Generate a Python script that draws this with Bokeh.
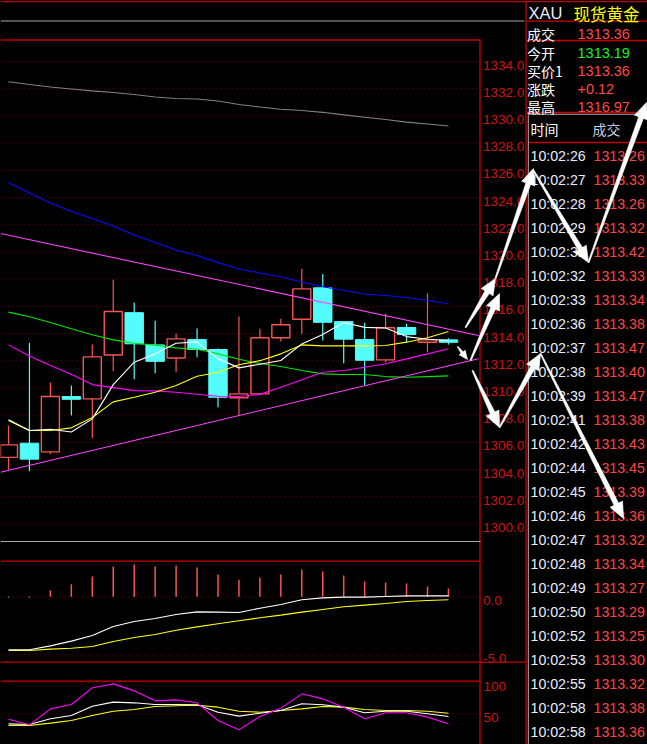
import math
from bokeh.plotting import figure
from bokeh.models import Range1d
from bokeh.core.properties import value
from bokeh.embed import file_html
from bokeh.resources import INLINE

# ---------------- data ----------------
bars = list(range(22))
opens  = [1304.90, 1305.94, 1305.30, 1309.37, 1309.20, 1312.43, 1315.54, 1313.17, 1312.21, 1313.56, 1312.83,
          1309.28, 1309.57, 1313.69, 1315.05, 1317.37, 1314.88, 1313.56, 1312.07, 1314.45, 1313.36, 1313.54]
closes = [1305.82, 1304.77, 1309.37, 1309.17, 1312.29, 1315.62, 1313.25, 1311.96, 1313.61, 1312.83, 1309.32,
          1309.57, 1313.69, 1314.65, 1317.29, 1314.83, 1313.59, 1312.04, 1314.43, 1313.93, 1313.54, 1313.36]
highs  = [1307.24, 1313.32, 1310.40, 1310.18, 1313.19, 1317.96, 1316.28, 1314.95, 1313.98, 1314.37, 1312.90,
          1315.25, 1314.35, 1315.10, 1318.76, 1318.39, 1314.88, 1314.79, 1315.45, 1314.72, 1316.97, 1313.66]
lows   = [1303.98, 1303.88, 1305.15, 1307.98, 1306.30, 1311.24, 1310.65, 1311.09, 1311.16, 1312.26, 1308.58,
          1307.96, 1309.50, 1313.42, 1313.98, 1313.49, 1311.82, 1310.18, 1311.89, 1313.36, 1312.63, 1313.19]

ma_white   = [1307.66, 1306.87, 1306.97, 1306.77, 1307.73, 1310.25, 1311.90, 1312.51, 1313.29, 1313.39, 1312.16,
              1311.48, 1311.75, 1312.02, 1313.24, 1313.93, 1314.81, 1314.46, 1314.41, 1313.78, 1313.59, 1313.49]
ma_yellow  = [1307.61, 1306.87, 1306.87, 1307.07, 1307.83, 1308.98, 1309.32, 1309.69, 1310.18, 1310.87, 1311.16,
              1311.71, 1312.01, 1312.51, 1313.17, 1313.10, 1313.10, 1313.10, 1313.13, 1313.37, 1313.69, 1314.15]
ma_magenta = [1313.17, 1312.36, 1311.66, 1311.01, 1310.25, 1310.03, 1309.81, 1309.79, 1309.69, 1309.54, 1309.39,
              1309.37, 1309.53, 1310.06, 1310.60, 1311.16, 1311.29, 1311.53, 1311.78, 1312.14, 1312.51, 1312.88]
ma_green   = [1315.58, 1315.24, 1314.81, 1314.36, 1313.92, 1313.54, 1313.29, 1313.15, 1312.95, 1312.85, 1312.51,
              1312.11, 1311.80, 1311.58, 1311.29, 1311.04, 1310.99, 1310.99, 1310.84, 1310.79, 1310.84, 1310.89]
ma_blue    = [1325.11, 1324.34, 1323.60, 1322.99, 1322.46, 1321.91, 1321.25, 1320.70, 1320.14, 1319.74, 1319.22,
              1318.75, 1318.46, 1318.18, 1317.79, 1317.44, 1317.19, 1316.91, 1316.80, 1316.65, 1316.43, 1316.19]
ma_gray    = [1332.52, 1332.32, 1332.13, 1331.99, 1331.85, 1331.73, 1331.58, 1331.40, 1331.29, 1331.25, 1331.10,
              1330.84, 1330.66, 1330.50, 1330.40, 1330.27, 1330.08, 1329.91, 1329.74, 1329.55, 1329.41, 1329.27]

trend_x       = [-0.38, 22.43]
trend_upper_y = [1321.36, 1313.86]
trend_lower_y = [1303.81, 1312.15]

macd_hist = [-0.05, -0.05, 0.54, 1.09, 1.75, 2.61, 2.78, 2.61, 2.70, 2.53, 1.92,
             1.47, 1.66, 1.92, 2.35, 2.18, 1.84, 1.32, 1.23, 1.15, 0.89, 0.72]
macd_dif  = [-4.57, -4.57, -4.23, -3.82, -3.34, -2.56, -2.13, -1.87, -1.53, -1.30, -1.32,
             -1.35, -0.98, -0.66, -0.26, -0.09, -0.03, -0.03, 0.03, 0.08, 0.08, 0.08]
macd_dea  = [-4.63, -4.63, -4.51, -4.43, -4.28, -3.85, -3.51, -3.25, -2.88, -2.59, -2.33,
             -2.07, -1.81, -1.58, -1.32, -1.09, -0.86, -0.72, -0.58, -0.41, -0.32, -0.26]

kdj_k = [33.8, 32.7, 41.9, 47.3, 62.3, 68.8, 67.7, 65.0, 65.0, 64.5, 52.6,
         46.2, 51.0, 55.3, 66.1, 64.5, 60.7, 51.6, 54.2, 54.2, 50.0, 45.6]
kdj_d = [31.1, 31.1, 34.9, 39.2, 47.3, 54.2, 56.9, 61.8, 62.9, 63.9, 60.7,
         54.2, 52.6, 55.3, 58.0, 61.8, 60.7, 56.9, 55.3, 55.3, 54.2, 51.0]
kdj_j = [41.3, 32.2, 58.0, 65.0, 91.9, 98.3, 87.0, 70.9, 72.5, 67.7, 39.2,
         24.1, 45.6, 59.1, 82.2, 74.1, 60.7, 41.9, 51.6, 51.6, 44.6, 33.8]

main_ticks = [1300.0, 1302.0, 1304.0, 1306.0, 1308.0, 1310.0, 1312.0, 1314.0, 1316.0,
              1318.0, 1320.0, 1322.0, 1324.0, 1326.0, 1328.0, 1330.0, 1332.0, 1334.0]
macd_ticks = [0.0, -5.0]
kdj_ticks = [100, 50]

symbol = "XAU"
symbol_name = "现货黄金"
quote_labels = ["成交", "今开", "买价1", "涨跌", "最高"]
quote_values = ["1313.36", "1313.19", "1313.36", "+0.12", "1316.97"]

tick_times = ["10:02:26", "10:02:27", "10:02:28", "10:02:29", "10:02:31", "10:02:32", "10:02:33",
              "10:02:36", "10:02:37", "10:02:38", "10:02:39", "10:02:41", "10:02:42", "10:02:44",
              "10:02:45", "10:02:46", "10:02:47", "10:02:48", "10:02:49", "10:02:50", "10:02:52",
              "10:02:53", "10:02:55", "10:02:58", "10:02:58"]
tick_prices = ["1313.26", "1313.33", "1313.26", "1313.32", "1313.42", "1313.33", "1313.34",
               "1313.38", "1313.47", "1313.40", "1313.47", "1313.38", "1313.43", "1313.45",
               "1313.39", "1313.36", "1313.32", "1313.34", "1313.27", "1313.29", "1313.25",
               "1313.30", "1313.32", "1313.38", "1313.36"]

# hand-drawn annotation arrows (screen layout, reference pixels): x0, y0, x1, y1, size
arrow_segments = [
    (465, 327, 495, 278, 1.0), (495, 278, 533, 168, 1.0), (533, 170, 588, 262, 1.0),
    (588, 262, 646, 102, 1.0), (470, 360, 499, 293, 1.0), (457, 346, 467, 359, 0.55),
    (472, 370, 499, 427, 1.0), (499, 427, 540, 353, 1.0), (540, 353, 623, 518, 1.0),
]

# ---------------- layout / style ----------------
REF_W, REF_H = 647, 744
W, H = 647, 744
SX = W / REF_W
BAR_X0, BAR_STEP = 8.0, 20.95

RED = "#c80000"
GRID = "#8c0000"
LBL = "#cc1414"
UP = "#f85454"
DOWN = "#54fcfc"
LATIN = value("Liberation Sans")
CJK = value("Noto Sans CJK SC")


def fs(px):
    return f"{px * SX:.1f}px"


def vrange(v_ref, px_ref, px_per_unit):
    top = v_ref + px_ref / px_per_unit
    bottom = v_ref - (REF_H - px_ref) / px_per_unit
    return Range1d(bottom, top)


p = figure(width=W, height=H, x_range=Range1d(0, REF_W), y_range=Range1d(REF_H, 0),
           toolbar_location=None, output_backend="svg", min_border=0,
           x_axis_location=None, y_axis_location=None,
           background_fill_color="black", border_fill_color="black", outline_line_color=None)
p.grid.grid_line_color = None
p.extra_x_ranges = {"bar": Range1d((0 - BAR_X0) / BAR_STEP, (REF_W - BAR_X0) / BAR_STEP)}
p.extra_y_ranges = {"price": vrange(1334.0, 61.1, 13.6),
                    "macd": vrange(0.0, 596.3, 11.6),
                    "kdj": vrange(100.0, 682.3, 0.62)}

try:
    from bokeh.models import GlobalInlineStyleSheet
    p.stylesheets = [GlobalInlineStyleSheet(
        css="html, body { background-color: #000000; margin: 0; padding: 0; overflow: hidden; }")]
except Exception:
    pass

# grids (dotted)
p.segment(x0=0, x1=480, y0=main_ticks, y1=main_ticks, y_range_name="price",
          line_color=GRID, line_dash="1 3", line_width=1)
p.segment(x0=0, x1=480, y0=macd_ticks, y1=macd_ticks, y_range_name="macd",
          line_color=GRID, line_dash="1 3", line_width=1)
p.segment(x0=0, x1=480, y0=kdj_ticks, y1=kdj_ticks, y_range_name="kdj",
          line_color=GRID, line_dash="1 3", line_width=1)

# candles
up_i = [i for i in bars if closes[i] >= opens[i]]
dn_i = [i for i in bars if closes[i] < opens[i]]
p.segment(x0=dn_i, x1=dn_i, y0=[highs[i] for i in dn_i], y1=[lows[i] for i in dn_i],
          x_range_name="bar", y_range_name="price", line_color=DOWN, line_width=1.2)
p.vbar(x=dn_i, top=[opens[i] for i in dn_i], bottom=[closes[i] for i in dn_i], width=0.88,
       x_range_name="bar", y_range_name="price", fill_color=DOWN, line_color=DOWN, line_width=1)
p.segment(x0=up_i, x1=up_i, y0=[highs[i] for i in up_i], y1=[closes[i] for i in up_i],
          x_range_name="bar", y_range_name="price", line_color=UP, line_width=1.2)
p.segment(x0=up_i, x1=up_i, y0=[opens[i] for i in up_i], y1=[lows[i] for i in up_i],
          x_range_name="bar", y_range_name="price", line_color=UP, line_width=1.2)
p.vbar(x=up_i, top=[closes[i] for i in up_i], bottom=[opens[i] for i in up_i], width=0.86,
       x_range_name="bar", y_range_name="price", fill_color="black", line_color=UP, line_width=1.4)

# moving averages / trend lines
for ys, col in [(ma_gray, "#808080"), (ma_blue, "#0a0aff"), (ma_green, "#00e600"),
                (ma_magenta, "#ff00ff"), (ma_yellow, "#ffff00"), (ma_white, "#ffffff")]:
    p.line(bars, ys, x_range_name="bar", y_range_name="price", line_color=col, line_width=1.1)
p.line(trend_x, trend_upper_y, x_range_name="bar", y_range_name="price", line_color="#ff44ff", line_width=1.1)
p.line(trend_x, trend_lower_y, x_range_name="bar", y_range_name="price", line_color="#ff44ff", line_width=1.1)

# MACD
p.segment(x0=bars, x1=bars, y0=[0.0] * len(bars), y1=macd_hist, x_range_name="bar", y_range_name="macd",
          line_color=[UP if v >= 0 else DOWN for v in macd_hist], line_width=1.5)
p.line(bars, macd_dea, x_range_name="bar", y_range_name="macd", line_color="#ffff00", line_width=1.1)
p.line(bars, macd_dif, x_range_name="bar", y_range_name="macd", line_color="#ffffff", line_width=1.1)

# KDJ
p.line(bars, kdj_d, x_range_name="bar", y_range_name="kdj", line_color="#ffff00", line_width=1.1)
p.line(bars, kdj_k, x_range_name="bar", y_range_name="kdj", line_color="#ffffff", line_width=1.1)
p.line(bars, kdj_j, x_range_name="bar", y_range_name="kdj", line_color="#ff00ff", line_width=1.1)

# axis labels
lbl_kw = dict(text_font=LATIN, text_font_size=fs(13.5), text_color=LBL, text_baseline="middle",
              text_align="left", y_offset=3.5 * SX)
p.text(x=[482.5] * len(main_ticks), y=main_ticks, text=[f"{t:.1f}" for t in main_ticks],
       y_range_name="price", **lbl_kw)
p.text(x=[482.5] * len(macd_ticks), y=macd_ticks, text=[f"{t:.1f}" for t in macd_ticks],
       y_range_name="macd", **lbl_kw)
p.text(x=[483] * len(kdj_ticks), y=kdj_ticks, text=[str(t) for t in kdj_ticks],
       y_range_name="kdj", **lbl_kw)

# frame lines (screen layout)
red_lines = [(0, 1.2, 647, 1.2), (526, 20.7, 647, 20.7), (0, 39.5, 480, 39.5), (526, 40, 647, 40),
             (479.5, 39, 479.5, 744), (525.5, 0, 525.5, 744), (0, 560.7, 480, 560.7),
             (0, 661.7, 525, 661.7), (0, 680.7, 480, 680.7), (526, 112, 647, 112), (528, 142, 647, 142)]
gray_lines = [(0, 20.5, 524, 20.5), (0, 541, 480, 541), (528, 113.8, 647, 113.8), (527.8, 113.8, 527.8, 744)]
p.segment(x0=[s[0] for s in red_lines], y0=[s[1] for s in red_lines], x1=[s[2] for s in red_lines],
          y1=[s[3] for s in red_lines], line_color=RED, line_width=1.3)
p.segment(x0=[s[0] for s in gray_lines], y0=[s[1] for s in gray_lines], x1=[s[2] for s in gray_lines],
          y1=[s[3] for s in gray_lines], line_color="#a8a8a8", line_width=1.1)

# right info panel
p.text(x=[528], y=[12], text=[symbol], text_font=LATIN, text_font_size=fs(16.5), text_color="#e8eeff",
       text_baseline="middle", text_align="left")
p.text(x=[573], y=[13], text=[symbol_name], text_font=CJK, text_font_size=fs(16.5), text_color="#ffff00",
       text_baseline="middle", text_align="left")
row_y = [33.5, 52.5, 70.5, 88.5, 106.5]
p.text(x=[526.5] * 5, y=row_y, text=quote_labels, text_font=CJK, text_font_size=fs(14),
       text_color="#ffffff", text_baseline="middle", text_align="left")
p.text(x=[577] * 5, y=row_y, text=quote_values, text_font=LATIN, text_font_size=fs(14.5),
       text_color=["#ff4848", "#22f022", "#ff4848", "#ff4848", "#ff4848"],
       text_baseline="middle", text_align="left")
p.text(x=[530, 592], y=[128, 128], text=["时间", "成交"], text_font=CJK, text_font_size=fs(14),
       text_color=["#ffffff", "#c4cce4"], text_baseline="middle", text_align="left")
rows_y = [155 + 24 * k for k in range(len(tick_times))]
p.text(x=[530] * len(tick_times), y=rows_y, text=tick_times, text_font=LATIN, text_font_size=fs(14.2),
       text_color="#e6eeff", text_baseline="middle", text_align="left")
p.text(x=[593] * len(tick_prices), y=rows_y, text=tick_prices, text_font=LATIN, text_font_size=fs(14.2),
       text_color="#ff4545", text_baseline="middle", text_align="left")

# annotation arrows


def arrow_poly(x0, y0, x1, y1, k):
    hl, hw, sw0, sw1 = 16 * k, 7 * k, 0.6 * k, 2.5 * k
    dx, dy = x1 - x0, y1 - y0
    L = math.hypot(dx, dy)
    ux, uy = dx / L, dy / L
    nx, ny = -uy, ux
    bx, by = x1 - ux * hl, y1 - uy * hl
    pts = [(x0 + nx * sw0, y0 + ny * sw0), (bx + nx * sw1, by + ny * sw1), (bx + nx * hw, by + ny * hw),
           (x1, y1), (bx - nx * hw, by - ny * hw), (bx - nx * sw1, by - ny * sw1), (x0 - nx * sw0, y0 - ny * sw0)]
    return [q[0] for q in pts], [q[1] for q in pts]


axs, ays = [], []
for seg in arrow_segments:
    a, b = arrow_poly(*seg)
    axs.append(a)
    ays.append(b)
p.patches(axs, ays, fill_color="#ffffff", line_color="#ffffff", line_width=0.6)

open("out.html", "w").write(file_html(p, INLINE))
